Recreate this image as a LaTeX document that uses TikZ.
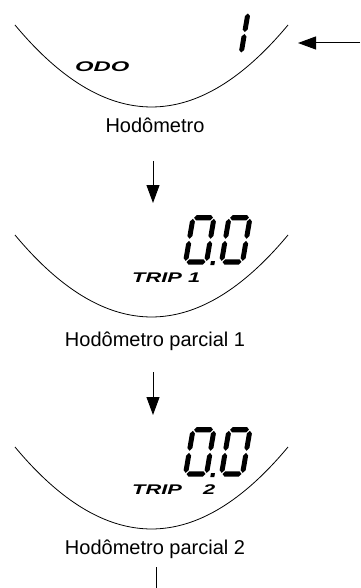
\documentclass[tikz,border=0pt]{standalone}
\usepackage{fontspec}
\usepackage{graphicx}
\setmainfont{Liberation Sans}
\usetikzlibrary{arrows.meta}
\newcommand\lcdsegs[1]{%
  % #1 = list of segments to draw (a b c d e f)
  \foreach \s in {#1}{%
    \if\s a\fill (3.5,2.5) -- (6,0) -- (20,0) -- (22.5,2.5) -- (20,5) -- (6,5) -- cycle;\fi
    \if\s d\fill (3.5,43.5) -- (6,41) -- (20,41) -- (22.5,43.5) -- (20,46) -- (6,46) -- cycle;\fi
    \if\s f\fill (2.5,3.5) -- (5,6) -- (5,19.5) -- (2.5,22) -- (0,19.5) -- (0,6) -- cycle;\fi
    \if\s e\fill (2.5,24) -- (5,26.5) -- (5,40) -- (2.5,42.5) -- (0,40) -- (0,26.5) -- cycle;\fi
    \if\s b\fill (23.5,3.5) -- (26,6) -- (26,19.5) -- (23.5,22) -- (21,19.5) -- (21,6) -- cycle;\fi
    \if\s c\fill (23.5,24) -- (26,26.5) -- (26,40) -- (23.5,42.5) -- (21,40) -- (21,26.5) -- cycle;\fi
  }%
}
\begin{document}
\begin{tikzpicture}[x=1pt,y=-1pt,
  lbl/.style={font=\fontsize{20}{24}\selectfont, anchor=base, inner sep=0pt},
  tag/.style={font=\fontsize{14}{16}\selectfont\bfseries\itshape, anchor=base west, inner sep=0pt},
  dial/.style={line width=0.8pt},
  arr/.style={line width=1pt, -{Triangle[length=18pt,width=13pt]}},
  lcd/.style={xslant=0.17},
  big/.style={yscale=1.08}
]
\useasboundingbox (0,0) rectangle (360,588);

% ---- panel 1: odometer
\draw[dial] (15,25) .. controls (106,134.3) and (197,134.3) .. (288,25);
\begin{scope}[shift={(225,10)},lcd]
  \lcdsegs{b,c}
\end{scope}
\node[tag] (odo) at (75,72) {\scalebox{1.7}[1]{ODO}};
\node[lbl] (l1) at (155,133) {Hodômetro};

% ---- panel 2: trip 1
\draw[dial] (15,235) .. controls (106,344.3) and (197,344.3) .. (288,235);
\begin{scope}[shift={(191,215)},lcd,big]
  \lcdsegs{a,b,c,d,e,f}
\end{scope}
\begin{scope}[shift={(227,215)},lcd,big]
  \lcdsegs{a,b,c,d,e,f}
\end{scope}
\fill (211,261) -- (215,261) -- (214.3,265) -- (210.3,265) -- cycle;
\node[tag] (t1) at (132,282) {\scalebox{1.56}[1]{TRIP 1}};
\node[lbl] (l2) at (155,346) {Hodômetro parcial 1};

% ---- panel 3: trip 2
\draw[dial] (15,447) .. controls (106,556.3) and (197,556.3) .. (288,447);
\begin{scope}[shift={(191,427)},lcd,big]
  \lcdsegs{a,b,c,d,e,f}
\end{scope}
\begin{scope}[shift={(227,427)},lcd,big]
  \lcdsegs{a,b,c,d,e,f}
\end{scope}
\fill (211,473) -- (215,473) -- (214.3,477) -- (210.3,477) -- cycle;
\node[tag] (t2) at (132,494) {\scalebox{1.56}[1]{TRIP}};
\node[tag] (t2n) at (203,494) {\scalebox{1.56}[1]{2}};
\node[lbl] (l3) at (155,554) {Hodômetro parcial 2};

% ---- connectors
\coordinate (in1) at (360,43);
\coordinate (in1e) at (298,43);
\coordinate (a1s) at (153,161);
\coordinate (a1e) at (153,203);
\coordinate (a2s) at (153,372);
\coordinate (a2e) at (153,415);
\coordinate (outs) at (156,567);
\coordinate (oute) at (156,588);
\draw[arr] (in1) -- (in1e);
\draw[arr] (a1s) -- (a1e);
\draw[arr] (a2s) -- (a2e);
\draw[line width=1pt] (outs) -- (oute);
\end{tikzpicture}
\end{document}
